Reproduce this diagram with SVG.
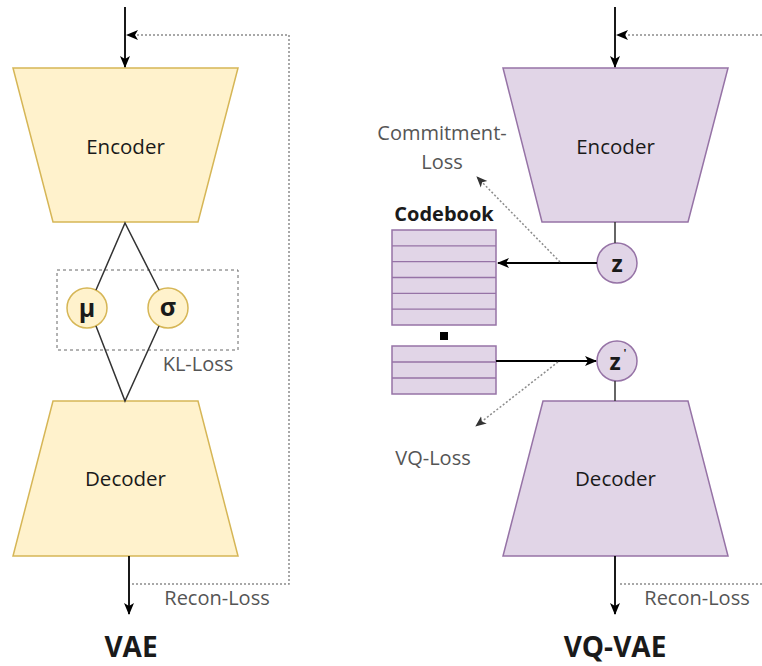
<svg xmlns="http://www.w3.org/2000/svg" width="762" height="666" viewBox="0 0 762 666">
  <style>
    .lbl { font-family: "Open Sans", "DejaVu Sans", sans-serif; fill: #1a1a1a; text-anchor: middle; }
    .node { font-size: 20.5px; }
    .loss { font-size: 20px; fill: #555; }
    .title { font-size: 28px; font-weight: bold; }
    .yel { fill: #FFF2CC; stroke: #D6B656; stroke-width: 1.5; }
    .pur { fill: #E1D5E7; stroke: #9673A6; stroke-width: 1.5; }
    .flow { stroke: #000; stroke-width: 1.8; fill: none; }
    .dot { stroke: #8c8c8c; stroke-width: 1.5; stroke-dasharray: 2 2; fill: none; }
    .thin { stroke: #333; stroke-width: 1.5; fill: none; }
  </style>
  <defs>
    <marker id="arr" viewBox="0 0 12 12" refX="11" refY="6" markerWidth="12" markerHeight="12" markerUnits="userSpaceOnUse" orient="auto">
      <path d="M0,1 L12,6 L0,11 L3,6 Z" fill="#000"/>
    </marker>
    <marker id="arrs" viewBox="0 0 12 12" refX="11" refY="6" markerWidth="11" markerHeight="11" markerUnits="userSpaceOnUse" orient="auto">
      <path d="M0,1 L12,6 L0,11 L3,6 Z" fill="#333"/>
    </marker>
  </defs>

  <!-- ===== VAE ===== -->
  <g id="vae-encoder">
    <polygon class="yel" points="13,68 238,68 198,222 53,222"/>
    <text class="lbl node" x="125.5" y="154">Encoder</text>
  </g>
  <g id="vae-mu">
    <circle class="yel" cx="87" cy="308" r="20"/>
    <text class="lbl" x="87" y="317" font-size="25" font-weight="bold">μ</text>
  </g>
  <g id="vae-sigma">
    <circle class="yel" cx="168" cy="308" r="20"/>
    <text class="lbl" x="168" y="316" font-size="25" font-weight="bold">σ</text>
  </g>
  <g id="vae-kl">
    <rect x="57" y="270" width="181" height="80" fill="none" stroke="#666" stroke-width="1" stroke-dasharray="3 3"/>
    <text class="lbl loss" x="198" y="371">KL-Loss</text>
  </g>
  <g id="vae-decoder">
    <polygon class="yel" points="53,401 198,401 238,556 13,556"/>
    <text class="lbl node" x="125.5" y="486">Decoder</text>
  </g>
  <text class="lbl loss" x="217" y="605">Recon-Loss</text>
  <text class="lbl title" x="131" y="657">VAE</text>

  <!-- ===== VQ-VAE ===== -->
  <g id="vq-encoder">
    <polygon class="pur" points="503,68 728,68 688,222 542,222"/>
    <text class="lbl node" x="615.5" y="154">Encoder</text>
  </g>
  <g id="vq-z">
    <circle class="pur" cx="617" cy="263" r="20"/>
    <text class="lbl" x="617" y="272" font-size="23" font-weight="bold">z</text>
  </g>
  <g id="vq-zq">
    <circle class="pur" cx="617" cy="361" r="20"/>
    <text class="lbl" x="615" y="370" font-size="23" font-weight="bold">z</text>
    <text class="lbl" x="625" y="357" font-size="11" font-weight="bold">'</text>
  </g>
  <g id="vq-codebook">
    <text class="lbl" x="444" y="221" font-size="20" font-weight="bold">Codebook</text>
    <rect class="pur" x="392" y="230" width="104" height="95" stroke-width="1.3"/>
    <path d="M392,245.8 H496 M392,261.7 H496 M392,277.5 H496 M392,293.3 H496 M392,309.2 H496" stroke="#9673A6" stroke-width="1.3"/>
    <rect x="440" y="332" width="8" height="8" fill="#000"/>
  </g>
  <g id="vq-selected">
    <rect class="pur" x="392" y="346" width="104" height="48" stroke-width="1.3"/>
    <path d="M392,362 H496 M392,378 H496" stroke="#9673A6" stroke-width="1.3"/>
  </g>
  <g id="vq-decoder">
    <polygon class="pur" points="543,401 688,401 728,556 503,556"/>
    <text class="lbl node" x="615.5" y="486">Decoder</text>
  </g>
  <text class="lbl loss" x="442" y="140">Commitment-</text>
  <text class="lbl loss" x="442" y="169">Loss</text>
  <text class="lbl loss" x="433" y="465">VQ-Loss</text>
  <text class="lbl loss" x="697" y="605">Recon-Loss</text>
  <text class="lbl title" x="615" y="657">VQ-VAE</text>

  <!-- ===== connectors ===== -->
  <g id="connectors">
    <!-- VAE -->
    <line class="flow" x1="125" y1="7" x2="125" y2="67" marker-end="url(#arr)"/>
    <polyline class="dot" points="132,584 289,584 289,35 131,35"/>
    <line x1="140" y1="35" x2="127" y2="35" stroke="none" marker-end="url(#arr)"/>
    <polyline class="thin" points="96,290 125,223 159,290"/>
    <polyline class="thin" points="96,326 125,401 159,326"/>
    <line class="flow" x1="129" y1="556" x2="129" y2="614" marker-end="url(#arr)"/>

    <!-- VQ-VAE -->
    <line class="flow" x1="615" y1="7" x2="615" y2="67" marker-end="url(#arr)"/>
    <line class="dot" x1="762" y1="35" x2="621" y2="35"/>
    <line x1="630" y1="35" x2="617" y2="35" stroke="none" marker-end="url(#arr)"/>
    <line class="thin" x1="615" y1="222" x2="615" y2="243"/>
    <line class="flow" x1="597" y1="263" x2="498" y2="263" marker-end="url(#arr)"/>
    <line class="dot" x1="560" y1="262" x2="477" y2="177" marker-end="url(#arrs)"/>
    <line class="flow" x1="496" y1="361" x2="596" y2="361" marker-end="url(#arr)"/>
    <line class="dot" x1="558" y1="362" x2="476" y2="426" marker-end="url(#arrs)"/>
    <line class="thin" x1="615" y1="381" x2="615" y2="401"/>
    <line class="flow" x1="615" y1="556" x2="615" y2="614" marker-end="url(#arr)"/>
    <line class="dot" x1="620" y1="584" x2="762" y2="584"/>
  </g>
</svg>
